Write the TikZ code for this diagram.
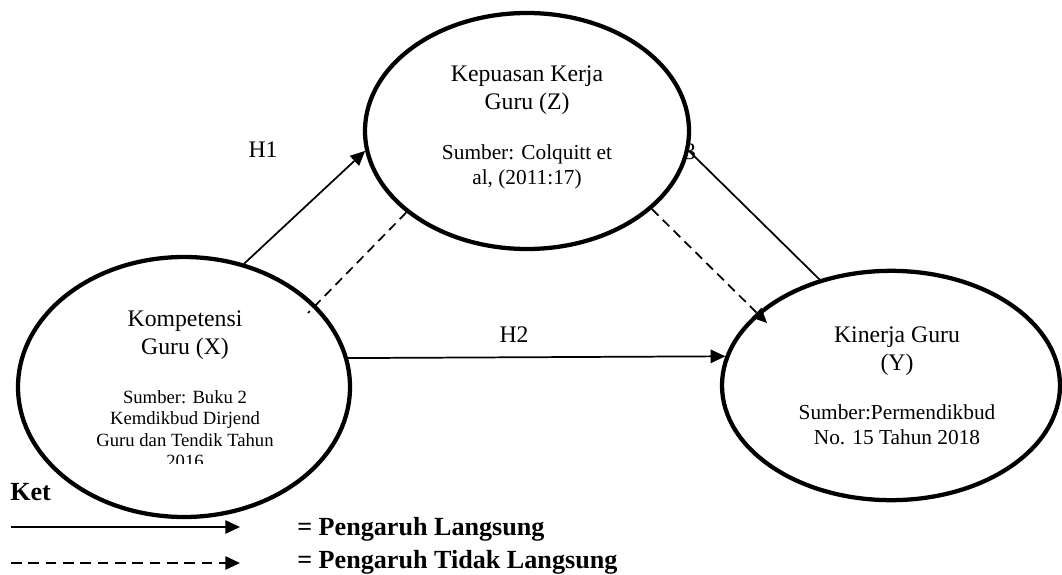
\documentclass[tikz,border=0pt]{standalone}
\usepackage{fontspec}
\setmainfont{Liberation Serif}
\usetikzlibrary{shapes.geometric, arrows.meta}

\tikzset{
  var/.style={draw, ellipse, line width=3.2pt, fill=white, inner sep=0pt},
  ttl/.style={font=\fontsize{17.8}{21}\selectfont, align=center},
  src/.style={font=\fontsize{16}{18.75}\selectfont, align=center},
  srcsmall/.style={font=\fontsize{14}{16.1}\selectfont, align=center},
  hyp/.style={font=\fontsize{17.8}{21}\selectfont, inner sep=0pt},
  ket/.style={font=\fontsize{19.6}{23}\selectfont\bfseries, inner sep=0pt},
  pointed/.style={-{Triangle[length=11pt, width=10pt]}},
  path/.style={line width=1.3pt},
  indirect/.style={line width=1.3pt, dash pattern=on 7pt off 4.5pt},
}

\begin{document}
\begin{tikzpicture}[x=0.75pt, y=-0.75pt]
  \useasboundingbox (0,0) rectangle (1062,574);
  \node[hyp] (h3) at (690,152) {3};
  % variabel
  \node[var, minimum width=249pt, minimum height=195pt] (X) at (184,387) {};
  \node[var, minimum width=243pt, minimum height=177pt] (Z) at (527,131) {};
  \node[var, minimum width=253.5pt, minimum height=172pt] (Y) at (891,385.5) {};
  \node[ttl] (Xt) at (185,335.5) {Kompetensi\\Guru (X)};
  \begin{scope}
    \clip (90,380) rectangle (280,463);
    \node[srcsmall] (Xs) at (185,429) {Sumber: Buku 2\\Kemdikbud Dirjend\\Guru dan Tendik Tahun\\2016};
  \end{scope}
  \node[ttl] (Zt) at (527,90) {Kepuasan Kerja\\Guru (Z)};
  \node[src] (Zs) at (527,167) {Sumber: Colquitt et\\al, (2011:17)};
  \node[ttl] (Yt) at (897,351) {Kinerja Guru\\(Y)};
  \node[src] (Ys) at (897,425) {Sumber:Permendikbud\\No. 15 Tahun 2018};
  % hubungan
  \draw[path, pointed] (X.64.7) -- (Z.187.9);
  \draw[path, pointed] (X.10.2) -- (Y.170.5);
  \draw[path] (Y.124.7) -- (Z.353.3);
  \coordinate (xz) at (308,313);
  \draw[indirect] (Z.214.3) -- (xz);
  \coordinate (zy) at (767,323);
  \draw[indirect, pointed] (Z.328) -- (zy);
  \node[hyp] (h1) at (263,150) {H1};
  \node[hyp] (h2) at (514,335) {H2};
  % keterangan
  \node[ket, anchor=base west] (ket) at (10,500) {Ket};
  \coordinate (l1a) at (11,527); \coordinate (l1b) at (240,527);
  \coordinate (l2a) at (11,563); \coordinate (l2b) at (240,563);
  \draw[path, pointed] (l1a) -- (l1b);
  \draw[indirect, dash pattern=on 8pt off 5pt, pointed] (l2a) -- (l2b);
  \node[ket, anchor=base west] (k1) at (297,535) {= Pengaruh Langsung};
  \node[ket, anchor=base west] (k2) at (297,568) {= Pengaruh Tidak Langsung};
\end{tikzpicture}
\end{document}
